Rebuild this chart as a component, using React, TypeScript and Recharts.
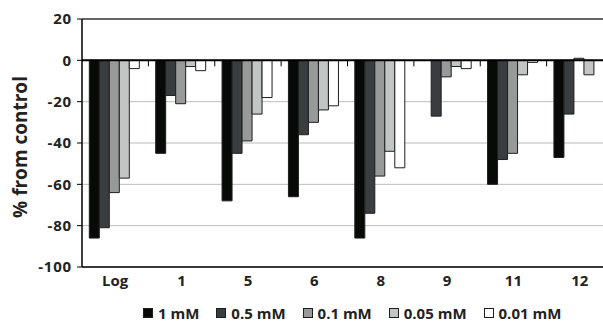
import { BarChart, Bar, XAxis, YAxis, CartesianGrid, ReferenceLine } from "recharts"

const categories = ["Log", "1", "5", "6", "8", "9", "11", "12"]
const mM1 = [-86, -45, -68, -66, -86, 0, -60, -47]
const mM05 = [-81, -17, -45, -36, -74, -27, -48, -26]
const mM01 = [-64, -21, -39, -30, -56, -8, -45, 1]
const mM005 = [-57, -3, -26, -24, -44, -3, -7, -7]
const mM001 = [-4, -5, -18, -22, -52, -4, -1, 0]
const yTicks = [-100, -80, -60, -40, -20, 0, 20]

const series = [
  { key: "m1", name: "1 mM", values: mM1, color: "#070a07" },
  { key: "m05", name: "0.5 mM", values: mM05, color: "#3a3d3f" },
  { key: "m01", name: "0.1 mM", values: mM01, color: "#989a9a" },
  { key: "m005", name: "0.05 mM", values: mM005, color: "#c3c5c4" },
  { key: "m001", name: "0.01 mM", values: mM001, color: "#ffffff" },
]

const data = categories.map((c, i) => {
  const row: Record<string, string | number> = { name: c }
  series.forEach((s) => (row[s.key] = s.values[i]))
  return row
})

const font = "'Open Sans', sans-serif"

// zero axis line with small tick marks between categories
const ZeroAxis = (props: any) => {
  const { x1, x2, y1 } = props
  const step = (x2 - x1) / categories.length
  return (
    <g>
      <line x1={x1} x2={x2} y1={y1} y2={y1} stroke="#000" strokeWidth={2} />
      {categories.slice(1).map((c, i) => (
        <line key={c} x1={x1 + step * (i + 1)} x2={x1 + step * (i + 1)} y1={y1} y2={y1 + 6} stroke="#000" strokeWidth={1} />
      ))}
    </g>
  )
}

const YTitle = (props: any) => {
  const { viewBox } = props
  const x = 20
  const y = viewBox.y + viewBox.height / 2 + 4
  return (
    <text x={x} y={y} transform={`rotate(-90 ${x} ${y})`} textAnchor="middle" dominantBaseline="central"
      fontFamily={font} fontWeight={700} fontSize={19} fill="#222">
      % from control
    </text>
  )
}

export default function App() {
  return (
    <div style={{ position: "absolute", left: 0, top: 0, width: 603, height: 324, overflow: "hidden", background: "#fff" }}>
      <BarChart width={640} height={324} data={data} margin={{ top: 19, right: 27, left: 0, bottom: 27 }}
        barCategoryGap="11%" barGap={0}>
        <CartesianGrid vertical={false} stroke="#bcbcbc" />
        <XAxis dataKey="name" height={30} tickLine={false} tickSize={0} tickMargin={8} axisLine={{ stroke: "#000", strokeWidth: 1.5 }}
          tick={{ fontFamily: font, fontWeight: 700, fontSize: 15, fill: "#222" }} />
        <YAxis width={82} domain={[-100, 20]} ticks={yTicks} interval={0} tickSize={5} tickMargin={5}
          axisLine={{ stroke: "#000", strokeWidth: 1.5 }} tickLine={{ stroke: "#000" }}
          tick={{ fontFamily: font, fontWeight: 700, fontSize: 15, fill: "#222", letterSpacing: 0.8 }}
          label={{ content: YTitle }} />
        <ReferenceLine y={20} stroke="#3c3c3c" strokeWidth={1.5} />
        {series.map((s) => (
          <Bar key={s.key} dataKey={s.key} name={s.name} fill={s.color} stroke="#1e1e1e" strokeWidth={1} isAnimationActive={false} />
        ))}
        <ReferenceLine y={0} shape={ZeroAxis} />
      </BarChart>
      <div style={{ position: "absolute", top: 303, left: 143, display: "flex", gap: 17, fontFamily: font, fontWeight: 700, fontSize: 15, color: "#222" }}>
        {series.map((s) => (
          <div key={s.key} style={{ display: "flex", alignItems: "center", gap: 5 }}>
            <span style={{ width: 8, height: 8, background: s.color, border: "1px solid #1e1e1e", display: "inline-block" }} />
            <span>{s.name}</span>
          </div>
        ))}
      </div>
    </div>
  )
}
